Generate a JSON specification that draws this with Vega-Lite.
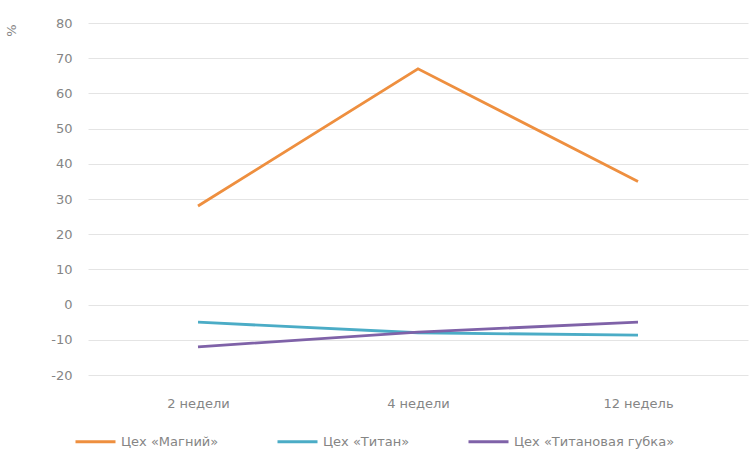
{
  "$schema": "https://vega.github.io/schema/vega-lite/v6.json",
  "width": 660,
  "height": 352,
  "autosize": {"type": "none"},
  "padding": {"left": 88, "top": 23, "right": 3, "bottom": 79},
  "background": "white",
  "config": {
    "view": {"stroke": null},
    "font": "DejaVu Sans",
    "axis": {"labelFont": "DejaVu Sans", "titleFont": "DejaVu Sans", "labelColor": "#858585", "titleColor": "#858585", "labelFontSize": 13}
  },
  "data": {
    "values": [
      {"period": "2 недели", "shop": "Цех «Магний»", "value": 28},
      {"period": "4 недели", "shop": "Цех «Магний»", "value": 67},
      {"period": "12 недель", "shop": "Цех «Магний»", "value": 35},
      {"period": "2 недели", "shop": "Цех «Титан»", "value": -5},
      {"period": "4 недели", "shop": "Цех «Титан»", "value": -8},
      {"period": "12 недель", "shop": "Цех «Титан»", "value": -8.7},
      {"period": "2 недели", "shop": "Цех «Титановая губка»", "value": -12},
      {"period": "4 недели", "shop": "Цех «Титановая губка»", "value": -7.8},
      {"period": "12 недель", "shop": "Цех «Титановая губка»", "value": -5}
    ]
  },
  "mark": {"type": "line", "strokeWidth": 2.8},
  "encoding": {
    "x": {
      "field": "period",
      "type": "ordinal",
      "sort": ["2 недели", "4 недели", "12 недель"],
      "scale": {"type": "point", "padding": 0.5},
      "axis": {"title": null, "labelAngle": 0, "domain": false, "ticks": false, "labelPadding": 22, "grid": false}
    },
    "y": {
      "field": "value",
      "type": "quantitative",
      "scale": {"domain": [-20, 80], "nice": false},
      "axis": {
        "title": "%",
        "titleAngle": -90,
        "titleX": -70,
        "titleY": 7,
        "titleAlign": "center",
        "titleFontWeight": "normal",
        "titleFontSize": 13,
        "values": [-20, -10, 0, 10, 20, 30, 40, 50, 60, 70, 80],
        "labelExpr": "replace(datum.label, '−', '-')",
        "domain": false,
        "ticks": false,
        "labelPadding": 16,
        "grid": true,
        "gridColor": "#e4e4e4",
        "gridWidth": 1
      }
    },
    "color": {
      "field": "shop",
      "type": "nominal",
      "sort": ["Цех «Магний»", "Цех «Титан»", "Цех «Титановая губка»"],
      "scale": {"range": ["#EE8F3F", "#4BACC6", "#7F62A8"]},
      "legend": {
        "title": null,
        "orient": "none",
        "direction": "horizontal",
        "legendX": -14,
        "legendY": 397,
        "symbolType": "stroke",
        "symbolSize": 1600,
        "symbolStrokeWidth": 2.8,
        "labelFontSize": 13,
        "labelColor": "#858585",
        "labelFont": "DejaVu Sans",
        "labelLimit": 300,
        "columnPadding": 52,
        "labelOffset": 4
      }
    }
  }
}
